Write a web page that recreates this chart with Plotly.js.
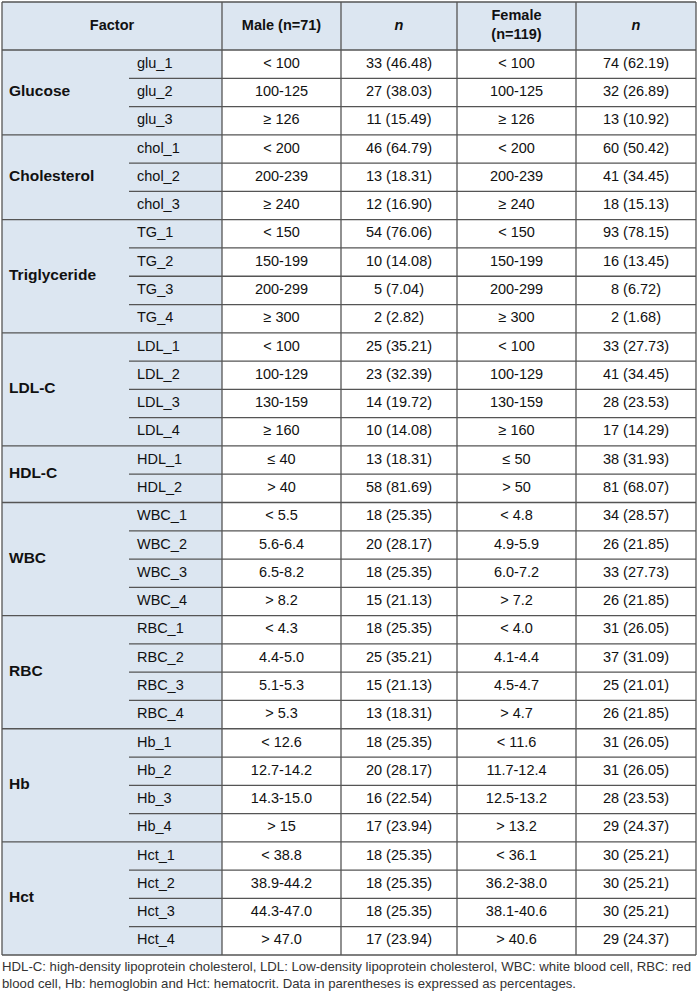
<!DOCTYPE html>
<html>
<head>
<meta charset="utf-8">
<script src="https://cdn.plot.ly/plotly-3.0.1.min.js"></script>
<style>html,body{margin:0;padding:0;background:#fff;}#chart{width:700px;height:991px;}</style>
</head>
<body>
<div id="chart"></div>
<script>
// ---------- data ----------
const headers = ['Factor', 'Male (n=71)', '<i>n</i>', 'Female<br>(n=119)', '<i>n</i>'];
const groupNames = ['Glucose', 'Cholesterol', 'Triglyceride', 'LDL-C', 'HDL-C', 'WBC', 'RBC', 'Hb', 'Hct'];
const groupCounts = [3, 3, 4, 4, 2, 4, 4, 4, 4];
const subLabels = ['glu_1','glu_2','glu_3','chol_1','chol_2','chol_3','TG_1','TG_2','TG_3','TG_4',
  'LDL_1','LDL_2','LDL_3','LDL_4','HDL_1','HDL_2','WBC_1','WBC_2','WBC_3','WBC_4',
  'RBC_1','RBC_2','RBC_3','RBC_4','Hb_1','Hb_2','Hb_3','Hb_4','Hct_1','Hct_2','Hct_3','Hct_4'];
const maleRange = ['< 100','100-125','≥ 126','< 200','200-239','≥ 240','< 150','150-199','200-299','≥ 300',
  '< 100','100-129','130-159','≥ 160','≤ 40','> 40','< 5.5','5.6-6.4','6.5-8.2','> 8.2',
  '< 4.3','4.4-5.0','5.1-5.3','> 5.3','< 12.6','12.7-14.2','14.3-15.0','> 15','< 38.8','38.9-44.2','44.3-47.0','> 47.0'];
const maleN = ['33 (46.48)','27 (38.03)','11 (15.49)','46 (64.79)','13 (18.31)','12 (16.90)','54 (76.06)','10 (14.08)','5 (7.04)','2 (2.82)',
  '25 (35.21)','23 (32.39)','14 (19.72)','10 (14.08)','13 (18.31)','58 (81.69)','18 (25.35)','20 (28.17)','18 (25.35)','15 (21.13)',
  '18 (25.35)','25 (35.21)','15 (21.13)','13 (18.31)','18 (25.35)','20 (28.17)','16 (22.54)','17 (23.94)','18 (25.35)','18 (25.35)','18 (25.35)','17 (23.94)'];
const femaleRange = ['< 100','100-125','≥ 126','< 200','200-239','≥ 240','< 150','150-199','200-299','≥ 300',
  '< 100','100-129','130-159','≥ 160','≤ 50','> 50','< 4.8','4.9-5.9','6.0-7.2','> 7.2',
  '< 4.0','4.1-4.4','4.5-4.7','> 4.7','< 11.6','11.7-12.4','12.5-13.2','> 13.2','< 36.1','36.2-38.0','38.1-40.6','> 40.6'];
const femaleN = ['74 (62.19)','32 (26.89)','13 (10.92)','60 (50.42)','41 (34.45)','18 (15.13)','93 (78.15)','16 (13.45)','8 (6.72)','2 (1.68)',
  '33 (27.73)','41 (34.45)','28 (23.53)','17 (14.29)','38 (31.93)','81 (68.07)','34 (28.57)','26 (21.85)','33 (27.73)','26 (21.85)',
  '31 (26.05)','37 (31.09)','25 (21.01)','26 (21.85)','31 (26.05)','31 (26.05)','28 (23.53)','29 (24.37)','30 (25.21)','30 (25.21)','30 (25.21)','29 (24.37)'];
const footnote = 'HDL-C: high-density lipoprotein cholesterol, LDL: Low-density lipoprotein cholesterol, WBC: white blood cell, RBC: red<br>blood cell, Hb: hemoglobin and Hct: hematocrit. Data in parentheses is expressed as percentages.';

// ---------- layout geometry ----------
const colEdges = [2, 129, 222, 341, 457, 576, 696];
const tableTop = 2, headerBottom = 50, tableBottom = 955;
const nRows = subLabels.length;
const rowH = (tableBottom - headerBottom) / nRows;
const rowTop = i => headerBottom + i * rowH;
const rowMid = i => headerBottom + (i + 0.5) * rowH;
const colMid = c => (colEdges[c] + colEdges[c + 1]) / 2;

const lineColor = '#555555';
const blue = '#dce6f1';
const FONT = '"Liberation Sans", Arial, sans-serif';
const FS = 14.5;

const shapes = [];
// backgrounds
shapes.push({type:'rect', xref:'x', yref:'y', x0:colEdges[0], x1:colEdges[6], y0:tableTop, y1:headerBottom, fillcolor:blue, line:{width:0}, layer:'below'});
shapes.push({type:'rect', xref:'x', yref:'y', x0:colEdges[0], x1:colEdges[2], y0:headerBottom, y1:tableBottom, fillcolor:blue, line:{width:0}, layer:'below'});

// horizontal lines
const hl = (x0, x1, y) => shapes.push({type:'line', xref:'x', yref:'y', x0, x1, y0:y, y1:y, line:{color:lineColor, width:1.3}});
hl(colEdges[0], colEdges[6], tableTop);
hl(colEdges[0], colEdges[6], headerBottom);
let r = 0;
groupCounts.forEach((cnt, g) => {
  for (let k = 1; k < cnt; k++) hl(colEdges[1], colEdges[6], rowTop(r + k));
  r += cnt;
  hl(colEdges[0], colEdges[6], rowTop(r));
});
// vertical lines
[0, 2, 3, 4, 5, 6].forEach(c => shapes.push({type:'line', xref:'x', yref:'y', x0:colEdges[c], x1:colEdges[c], y0:tableTop, y1:tableBottom, line:{color:lineColor, width:1.3}}));

// ---------- text traces ----------
const traces = [];
const txtTrace = (x, y, text, pos, bold, size) => ({
  type:'scatter', mode:'text', x, y,
  text: bold ? text.map(t => '<b>' + t + '</b>') : text,
  textposition: pos, textfont:{family:FONT, size:size || FS, color:'#111'},
  hoverinfo:'skip', showlegend:false, cliponaxis:false
});
// header
const hdrX = [(colEdges[0] + colEdges[2]) / 2, colMid(2), colMid(3), colMid(4), colMid(5)];
traces.push(txtTrace(hdrX, hdrX.map(() => (tableTop + headerBottom) / 2), headers, 'middle center', true));
// group names
const gY = [];
r = 0;
groupCounts.forEach(cnt => { gY.push((rowTop(r) + rowTop(r + cnt)) / 2); r += cnt; });
traces.push(txtTrace(groupNames.map(() => colEdges[0] + 7), gY, groupNames, 'middle right', true, 15.5));
// sub labels
const ys = subLabels.map((_, i) => rowMid(i));
traces.push(txtTrace(subLabels.map(() => colEdges[1] + 8), ys, subLabels, 'middle right', false));
traces.push(txtTrace(ys.map(() => colMid(2)), ys, maleRange, 'middle center', false));
traces.push(txtTrace(ys.map(() => colMid(3)), ys, maleN, 'middle center', false));
traces.push(txtTrace(ys.map(() => colMid(4)), ys, femaleRange, 'middle center', false));
traces.push(txtTrace(ys.map(() => colMid(5)), ys, femaleN, 'middle center', false));

const layout = {
  width:700, height:991,
  margin:{l:0, r:0, t:0, b:0},
  paper_bgcolor:'#fff', plot_bgcolor:'#fff',
  xaxis:{range:[0, 700], visible:false, fixedrange:true},
  yaxis:{range:[991, 0], visible:false, fixedrange:true},
  shapes,
  annotations:[{
    xref:'x', yref:'y', x:0, y:975, xanchor:'left', yanchor:'middle', align:'left',
    text:footnote, showarrow:false,
    font:{family:FONT, size:13.2, color:'#333'}
  }],
  showlegend:false
};

Plotly.newPlot('chart', traces, layout, {staticPlot:true, displayModeBar:false});
</script>
</body>
</html>
